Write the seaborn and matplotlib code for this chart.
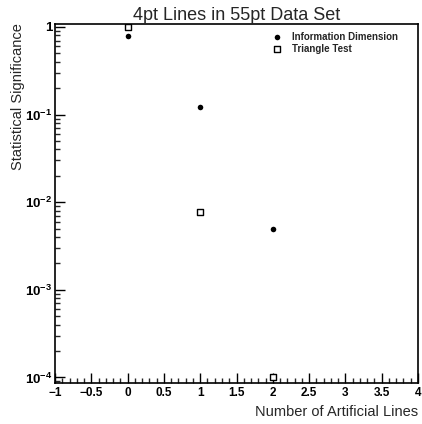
import matplotlib
matplotlib.use("Agg")
import matplotlib.pyplot as plt
import matplotlib.ticker as mticker
import numpy as np
import pandas as pd
import seaborn as sns

# Data: significance vs. number of artificial lines
n_lines = [0, 1, 2]
info_dim = [0.78, 0.121, 0.0049]
triangle = [1.0, 0.0077, 0.0001]

title = "4pt Lines in 55pt Data Set"
xlabel = "Number of Artificial Lines"
ylabel = "Statistical Significance"
series_names = ["Information Dimension", "Triangle Test"]

sns.set_theme(style="ticks")
plt.rcParams["font.family"] = ["Liberation Sans", "DejaVu Sans"]
plt.rcParams["mathtext.fontset"] = "custom"
plt.rcParams["mathtext.rm"] = "Liberation Sans"
plt.rcParams["mathtext.bf"] = "Liberation Sans:bold"

df = pd.concat([
    pd.DataFrame({"n": n_lines, "sig": info_dim, "test": series_names[0]}),
    pd.DataFrame({"n": n_lines, "sig": triangle, "test": series_names[1]}),
])

fig = plt.figure(figsize=(4.22, 4.24), dpi=100)
ax = fig.add_axes([55 / 422, 1 - 383 / 424, 363 / 422, 359 / 424])

sns.scatterplot(data=df[df.test == series_names[0]], x="n", y="sig", ax=ax,
                marker="o", s=16, color="black", edgecolor="black",
                linewidth=0, label=series_names[0], legend=False)
sns.scatterplot(data=df[df.test == series_names[1]], x="n", y="sig", ax=ax,
                marker="s", s=18, facecolor="white", edgecolor="black",
                linewidth=1.0, label=series_names[1], legend=False)

ax.set_yscale("log")
ax.set_xlim(-1, 4)
ax.set_ylim(8.65e-5, 1.082)

# x ticks: major every 0.5, minor every 0.1
ax.xaxis.set_major_locator(mticker.MultipleLocator(0.5))
ax.xaxis.set_minor_locator(mticker.MultipleLocator(0.1))
ax.xaxis.set_major_formatter(mticker.FuncFormatter(
    lambda v, p: f"{v:g}".replace("-", "\u2212")))

ax.yaxis.set_major_locator(mticker.LogLocator(base=10, numticks=10))
ax.yaxis.set_minor_locator(mticker.LogLocator(base=10, subs=np.arange(2, 10), numticks=20))
ax.yaxis.set_minor_formatter(mticker.NullFormatter())
ax.yaxis.set_major_formatter(mticker.FuncFormatter(
    lambda v, p: "1" if abs(v - 1) < 1e-9 else r"$\mathbf{10^{-%d}}$" % int(round(-np.log10(v)))))

ax.tick_params(axis="both", which="major", direction="in", length=7, width=1,
               colors="black", top=False, right=False)
ax.tick_params(axis="x", which="major", labelsize=8.5, pad=3)
ax.tick_params(axis="y", which="major", labelsize=9.5, pad=2)
ax.tick_params(axis="both", which="minor", direction="in", length=3.5, width=1,
               top=False, right=False)
for lbl in ax.get_xticklabels() + ax.get_yticklabels():
    lbl.set_fontweight("bold")

for sp in ax.spines.values():
    sp.set_visible(True)
    sp.set_linewidth(1.2)
    sp.set_color("black")

ax.set_title(title, fontsize=13, pad=1)
ax.set_xlabel(xlabel, fontsize=10.5, loc="right", labelpad=4)
ax.set_ylabel("")
fig.text(18 / 422, 1 - 23 / 424, ylabel, rotation=90, ha="center", va="top",
         fontsize=10.5)

ax.legend(loc="upper right", frameon=False, prop={"size": 7, "weight": "bold"},
          handletextpad=0.6, borderaxespad=0.5, labelspacing=0.2,
          bbox_to_anchor=(0.97, 1.003))

fig.savefig("out.png", dpi=100)
